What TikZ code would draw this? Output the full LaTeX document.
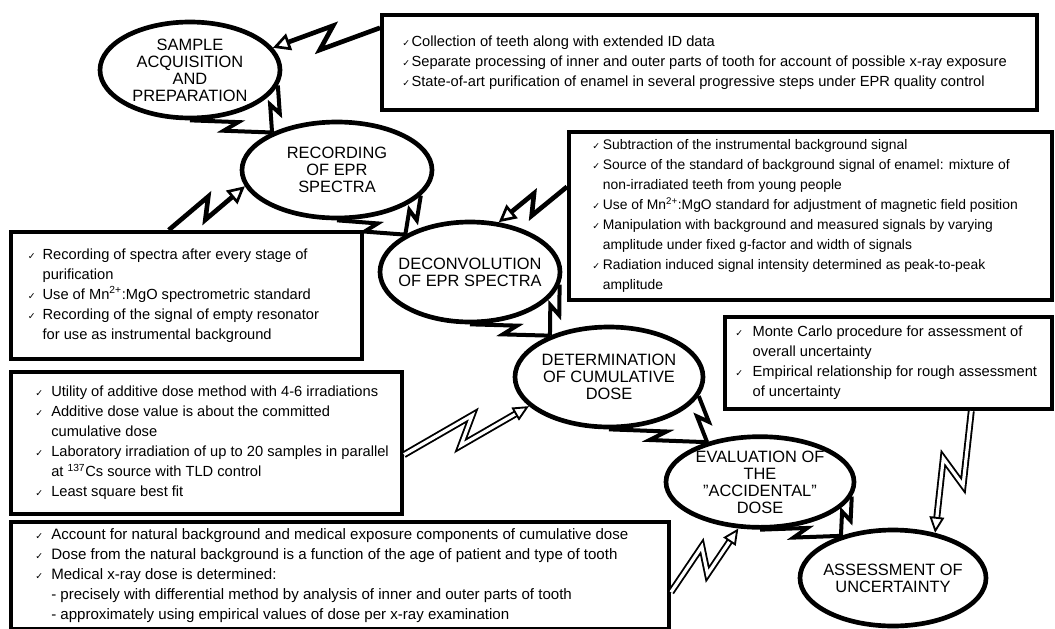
\documentclass[tikz,border=0pt]{standalone}
\usepackage{fontspec}
\setmainfont{Liberation Sans}
\newfontfamily\symf{DejaVu Sans}
\usepackage{tikz}
\usetikzlibrary{arrows.meta,calc,shapes.geometric}
\newlength{\chkw}
\newcommand{\chk}{\makebox[\chkw][l]{\symf\scriptsize ✓}}
\newcommand{\ind}{\hspace*{\chkw}}

\begin{document}
\begin{tikzpicture}[
  x=0.75pt, y=-0.75pt,
  stage/.style={ellipse, draw, line width=3.5pt, inner sep=0pt},
  stagetext/.style={align=center, inner sep=0pt,
    font=\fontsize{12.3}{12.8}\selectfont},
  infobox/.style={draw, line width=3pt, inner sep=0pt, anchor=north west},
  items/.style={align=left, inner sep=0pt, anchor=west,
    font=\fontsize{11}{15}\selectfont,
    execute at begin node={\setlength{\chkw}{#1}}},
  zigto/.style={to path={
    -- ($(\tikztostart)!0.58!(\tikztotarget)!#1!90:(\tikztotarget)$)
    -- ($(\tikztostart)!0.42!(\tikztotarget)!#1!-90:(\tikztotarget)$)
    -- (\tikztotarget)}},
  bolt/.style={draw, double=white, double distance=2.4pt, line width=1.4pt,
    line join=miter, -{Triangle[open, length=12pt, width=11pt]}},
  sbolt/.style={draw, line width=3.5pt, line join=miter,
    -{Triangle[open, length=13pt, width=13pt, line width=2pt]}},
  tail/.style={draw, line width=3pt, line join=miter}
]
\useasboundingbox (0,0) rectangle (1055,628);

% stages
\node[stage, minimum width=135pt, minimum height=72pt,
  label={[stagetext]center:{SAMPLE\\ACQUISITION\\AND\\PREPARATION}}]
  (s1) at (190,70) {};
\node[stage, minimum width=142.5pt, minimum height=72pt,
  label={[stagetext]center:{RECORDING\\OF EPR\\SPECTRA}}]
  (s2) at (337,170) {};
\node[stage, minimum width=135pt, minimum height=75pt,
  label={[stagetext]center:{DECONVOLUTION\\OF EPR SPECTRA}}]
  (s3) at (470,272) {};
\node[stage, minimum width=141pt, minimum height=75pt,
  label={[stagetext]center:{DETERMINATION\\OF CUMULATIVE\\DOSE}}]
  (s4) at (609,377) {};
\node[stage, minimum width=141pt, minimum height=68pt,
  label={[stagetext]center:{EVALUATION OF\\THE\\"ACCIDENTAL"\\DOSE}}]
  (s5) at (760,482) {};
\node[stage, minimum width=139.5pt, minimum height=72pt,
  label={[stagetext]center:{ASSESSMENT OF\\UNCERTAINTY}}]
  (s6) at (893,578) {};

% boxes
\node[infobox, minimum width=491.25pt, minimum height=71.25pt,
  label={[items=7pt, anchor=west, xshift=16.5pt]west:{%
    \chk Collection of teeth along with extended ID data\\
    \chk Separate processing of inner and outer parts of tooth for account of possible x-ray exposure\\
    \chk State-of-art purification of enamel in several progressive steps under EPR quality control}}]
  (b1) at (380,13) {};
\node[infobox, minimum width=362.25pt, minimum height=126pt,
  label={[items=8pt, anchor=west, xshift=18.75pt,
    font=\fontsize{10.4}{15}\selectfont]west:{%
    \chk Subtraction of the instrumental background signal\\
    \chk Source of the standard of background signal of enamel: mixture of\\
    \ind non-irradiated teeth from young people\\
    \chk Use of Mn\textsuperscript{2+}:MgO standard for adjustment of magnetic field position\\
    \chk Manipulation with background and measured signals by varying\\
    \ind amplitude under fixed g-factor and width of signals\\
    \chk Radiation induced signal intensity determined as peak-to-peak\\
    \ind amplitude}}]
  (b2) at (567,130) {};
\node[infobox, minimum width=263.25pt, minimum height=95.25pt,
  label={[items=11pt, anchor=west, xshift=14pt]west:{%
    \chk Recording of spectra after every stage of\\
    \ind purification\\
    \chk Use of Mn\textsuperscript{2+}:MgO spectrometric standard\\
    \chk Recording of the signal of empty resonator\\
    \ind for use as instrumental background}}]
  (b3) at (9,230) {};
\node[infobox, minimum width=245.25pt, minimum height=69pt,
  label={[items=13pt, anchor=west, xshift=9pt]west:{%
    \chk Monte Carlo procedure for assessment of\\
    \ind overall uncertainty\\
    \chk Empirical relationship for rough assessment\\
    \ind of uncertainty}}]
  (b4) at (723,315) {};
\node[infobox, minimum width=293.25pt, minimum height=106.5pt,
  label={[items=12pt, anchor=west, xshift=19.5pt]west:{%
    \chk Utility of additive dose method with 4-6 irradiations\\
    \chk Additive dose value is about the committed\\
    \ind cumulative dose\\
    \chk Laboratory irradiation of up to 20 samples in parallel\\
    \ind at \textsuperscript{137}Cs source with TLD control\\
    \chk Least square best fit}}]
  (b5) at (9,370) {};
\node[infobox, minimum width=493.5pt, minimum height=80.25pt,
  label={[items=12pt, anchor=west, xshift=19.5pt,
    font=\fontsize{11.3}{15}\selectfont]west:{%
    \chk Account for natural background and medical exposure components of cumulative dose\\
    \chk Dose from the natural background is a function of the age of patient and type of tooth\\
    \chk Medical x-ray dose is determined:\\
    \ind - precisely with differential method by analysis of inner and outer parts of tooth\\
    \ind - approximately using empirical values of dose per x-ray examination}}]
  (b6) at (9,520) {};

% tails from stage to stage
\draw[tail] (s1.-90) to[zigto=4pt] (s2.150) (s1.-10) to[zigto=4pt] (s2.150);
\draw[tail] (s2.-90) to[zigto=4pt] (s3.150) (s2.-17) to[zigto=4pt] (s3.150);
\draw[tail] (s3.-90) to[zigto=4pt] (s4.145) (s3.-8) to[zigto=4pt] (s4.145);
\draw[tail] (s4.-90) to[zigto=4pt] (s5.143) (s4.-12) to[zigto=4pt] (s5.143);
\draw[tail] (s5.-90) to[zigto=4pt] (s6.141) (s5.-9) to[zigto=4pt] (s6.141);

% bolts from boxes
\draw[sbolt] ($(b1.north west)!0.15!(b1.south west)$) to[zigto=8pt] (s1.15);
\draw[sbolt] ($(b3.north west)!0.45!(b3.north east)$) to[zigto=7pt] (s2.190);
\draw[sbolt] ($(b2.north west)!0.33!(b2.south west)$) to[zigto=7pt] (s3.60);
\draw[bolt] ($(b5.north east)!0.58!(b5.south east)$) to[zigto=9pt] (s4.200);
\draw[bolt] ($(b6.north east)!0.65!(b6.south east)$) to[zigto=9pt] (s5.245);
\draw[bolt] ($(b4.south west)!0.75!(b4.south east)$) to[zigto=10pt] (s6.47);
\end{tikzpicture}
\end{document}
